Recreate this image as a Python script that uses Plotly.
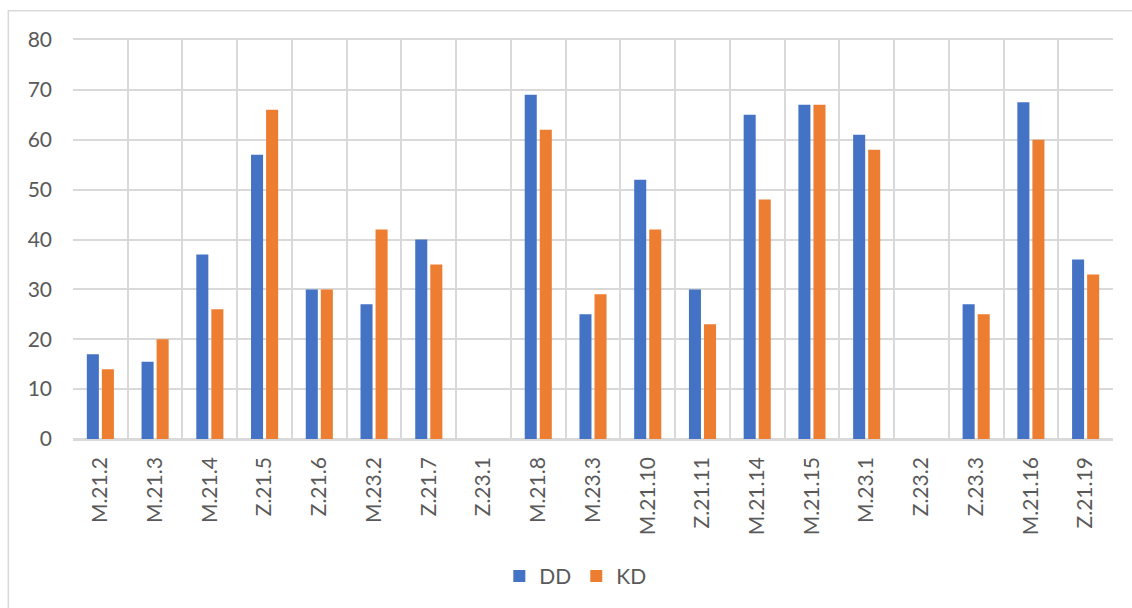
import plotly.graph_objects as go

categories = ["M.21.2", "M.21.3", "M.21.4", "Z.21.5", "Z.21.6", "M.23.2", "Z.21.7",
              "Z.23.1", "M.21.8", "M.23.3", "M.21.10", "Z.21.11", "M.21.14", "M.21.15",
              "M.23.1", "Z.23.2", "Z.23.3", "M.21.16", "Z.21.19"]
dd_values = [17, 15.5, 37, 57, 30, 27, 40, None, 69, 25, 52, 30, 65, 67, 61, None, 27, 67.5, 36]
kd_values = [14, 20, 26, 66, 30, 42, 35, None, 62, 29, 42, 23, 48, 67, 58, None, 25, 60, 33]
y_ticks = [0, 10, 20, 30, 40, 50, 60, 70, 80]

text_color = "#595959"
grid_color = "#d9d9d9"
font_family = "Lato, Carlito, Calibri, sans-serif"

fig = go.Figure()
fig.add_trace(go.Bar(name="DD", x=categories, y=dd_values, marker_color="#4472C4",
                     marker_line_width=0))
fig.add_trace(go.Bar(name="KD", x=categories, y=kd_values, marker_color="#ED7D31",
                     marker_line_width=0))

fig.update_layout(
    width=1132, height=608,
    margin=dict(l=73, r=19, t=40, b=168),
    paper_bgcolor="white", plot_bgcolor="white",
    barmode="group", bargap=0.45, bargroupgap=0.2,
    font=dict(family=font_family, size=21, color=text_color),
    showlegend=True,
    legend=dict(orientation="h", x=0.483, xanchor="center", y=-0.341, yanchor="middle",
                font=dict(size=21, color=text_color), itemwidth=30,
                traceorder="normal"),
    shapes=[dict(type="rect", xref="paper", yref="paper",
                 x0=-0.0622, x1=1.2, y0=-0.6, y1=1.073,
                 line=dict(color=grid_color, width=1.5), fillcolor="rgba(0,0,0,0)",
                 layer="below")],
)

fig.update_xaxes(
    type="category", tickangle=-90, tickson="boundaries",
    showgrid=True, gridcolor=grid_color, gridwidth=1.5,
    showline=True, linecolor=grid_color, linewidth=1.5, mirror=True,
    ticks="", ticklabelstandoff=8,
    tickfont=dict(size=21, color=text_color),
)
fig.update_yaxes(
    range=[0, 80], tickvals=y_ticks,
    showgrid=True, gridcolor=grid_color, gridwidth=1.5,
    showline=False, zeroline=True, zerolinecolor=grid_color, zerolinewidth=1.5,
    ticks="", ticklabelstandoff=20,
    tickfont=dict(size=21, color=text_color),
)

fig.write_html("out.html")
